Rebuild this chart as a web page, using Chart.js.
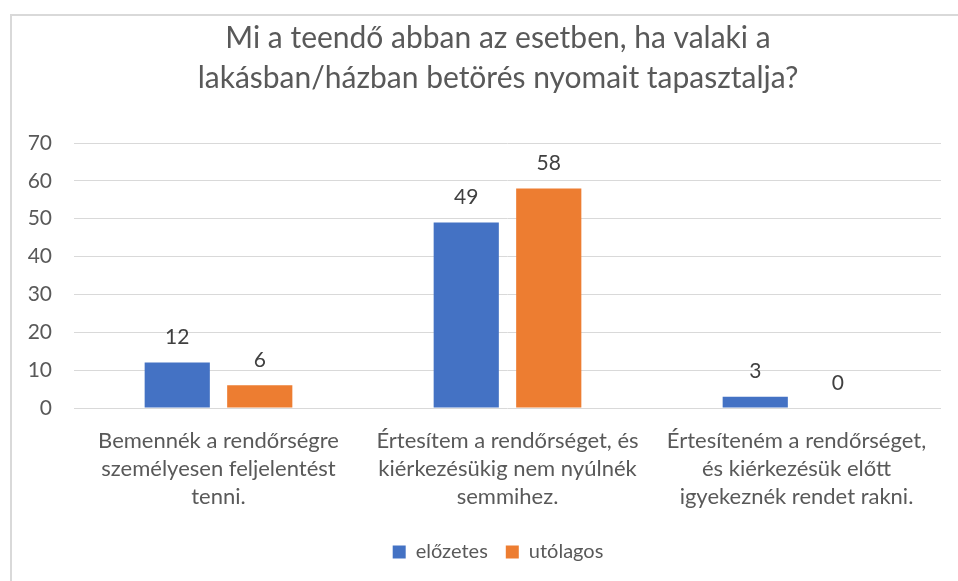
<!DOCTYPE html>
<html>
<head>
<meta charset="utf-8">
<script src="https://cdn.jsdelivr.net/npm/chart.js@4"></script>
<style>
  html, body { margin: 0; padding: 0; background: #fff; overflow: hidden; }
  #frame { position: absolute; left: 10px; top: 14px; width: 980px; height: 600px; border: 2px solid #d9d9d9; }
  #wrap { position: absolute; left: 12px; top: 16px; width: 972px; height: 565px; }
</style>
</head>
<body>
<div id="frame"></div>
<div id="wrap"><canvas id="chart" width="972" height="565"></canvas></div>
<script>
// chart data
const categories = [
  ['Bemennék a rendőrségre', 'személyesen feljelentést', 'tenni.'],
  ['Értesítem a rendőrséget, és', 'kiérkezésükig nem nyúlnék', 'semmihez.'],
  ['Értesíteném a rendőrséget,', 'és kiérkezésük előtt', 'igyekeznék rendet rakni.']
];
const elozetes = [12, 49, 3];
const utolagos = [6, 58, 0];
const yTicks = [0, 10, 20, 30, 40, 50, 60, 70];

const FONT = 'Lato, "Open Sans", sans-serif';
const TEXT = '#595959';

// value labels above bars
const valueLabels = {
  id: 'valueLabels',
  afterDatasetsDraw(chart) {
    const ctx = chart.ctx;
    ctx.save();
    ctx.font = '21px ' + FONT;
    ctx.fillStyle = '#404040';
    ctx.textAlign = 'center';
    ctx.textBaseline = 'middle';
    chart.data.datasets.forEach((ds, i) => {
      chart.getDatasetMeta(i).data.forEach((bar, j) => {
        ctx.fillText(ds.data[j], bar.x, bar.y - 25);
      });
    });
    ctx.restore();
  }
};

const ctx = document.getElementById('chart').getContext('2d');
const chart = new Chart(ctx, {
  type: 'bar',
  data: {
    labels: categories,
    datasets: [
      { label: 'előzetes', data: elozetes, backgroundColor: '#4472C4' },
      { label: 'utólagos', data: utolagos, backgroundColor: '#ED7D31' }
    ]
  },
  options: {
    responsive: false,
    animation: false,
    categoryPercentage: 0.571,
    barPercentage: 0.79,
    layout: { padding: { left: 0, right: 0, top: 0, bottom: 9 } },
    plugins: {
      title: {
        display: true,
        text: ['Mi a teendő abban az esetben, ha valaki a', 'lakásban/házban betörés nyomait tapasztalja?'],
        color: TEXT,
        font: { family: FONT, size: 30, weight: 'normal', lineHeight: 1.35 },
        padding: { top: 2, bottom: 44 }
      },
      legend: {
        position: 'bottom',
        labels: {
          color: TEXT,
          font: { family: FONT, size: 20 },
          boxWidth: 13,
          boxHeight: 13,
          padding: 18
        }
      },
      tooltip: { enabled: false }
    },
    scales: {
      x: {
        grid: { display: false },
        border: { display: false },
        ticks: {
          color: TEXT,
          font: { family: FONT, size: 22, lineHeight: 1.27 },
          padding: 11,
          autoSkip: false,
          maxRotation: 0
        },
        afterFit(scale) { scale.height = 116; }
      },
      y: {
        min: 0,
        max: 70,
        afterBuildTicks(scale) { scale.ticks = yTicks.map(v => ({ value: v })); },
        grid: { color: '#d9d9d9', lineWidth: 1, drawTicks: false },
        border: { display: false },
        ticks: {
          color: TEXT,
          font: { family: FONT, size: 21 },
          padding: 22
        },
        afterFit(scale) { scale.width = 62; }
      },
      // empty right-side margin so title and legend stay centred on the frame
      yRight: {
        position: 'right',
        display: true,
        grid: { display: false },
        border: { display: false },
        ticks: { display: false },
        afterFit(scale) { scale.width = 43; }
      }
    }
  },
  plugins: [valueLabels]
});
</script>
</body>
</html>
